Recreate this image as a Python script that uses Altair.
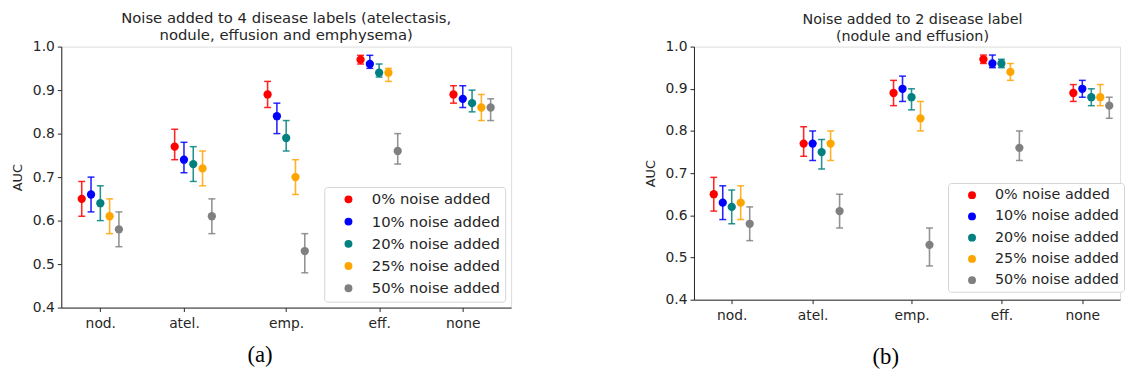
import altair as alt
import pandas as pd

categories = ["nod.", "atel.", "emp.", "eff.", "none"]
series = ["0% noise added", "10% noise added", "20% noise added",
          "25% noise added", "50% noise added"]
colors = ["#ff0000", "#0000ff", "#008080", "#ffa500", "#808080"]
tick_values = [2, 11, 22, 32, 41]

# panel (a): rows = series, columns = categories
auc_a = [[0.65, 0.77, 0.89, 0.97, 0.89],
         [0.66, 0.74, 0.84, 0.96, 0.88],
         [0.64, 0.73, 0.79, 0.94, 0.87],
         [0.61, 0.72, 0.70, 0.94, 0.86],
         [0.58, 0.61, 0.53, 0.76, 0.86]]
lo_a = [[0.61, 0.74, 0.86, 0.96, 0.87],
        [0.62, 0.71, 0.80, 0.95, 0.86],
        [0.60, 0.69, 0.76, 0.93, 0.85],
        [0.57, 0.68, 0.66, 0.92, 0.83],
        [0.54, 0.57, 0.48, 0.73, 0.83]]
hi_a = [[0.69, 0.81, 0.92, 0.98, 0.91],
        [0.70, 0.78, 0.87, 0.98, 0.91],
        [0.68, 0.77, 0.83, 0.96, 0.90],
        [0.65, 0.76, 0.74, 0.95, 0.89],
        [0.62, 0.65, 0.57, 0.80, 0.88]]

# panel (b)
auc_b = [[0.65, 0.77, 0.89, 0.97, 0.89],
         [0.63, 0.77, 0.90, 0.96, 0.90],
         [0.62, 0.75, 0.88, 0.96, 0.88],
         [0.63, 0.77, 0.83, 0.94, 0.88],
         [0.58, 0.61, 0.53, 0.76, 0.86]]
lo_b = [[0.61, 0.74, 0.86, 0.96, 0.87],
        [0.59, 0.73, 0.87, 0.95, 0.88],
        [0.58, 0.71, 0.85, 0.95, 0.86],
        [0.59, 0.73, 0.80, 0.92, 0.86],
        [0.54, 0.57, 0.48, 0.73, 0.83]]
hi_b = [[0.69, 0.81, 0.92, 0.98, 0.91],
        [0.67, 0.80, 0.93, 0.98, 0.92],
        [0.66, 0.78, 0.90, 0.97, 0.90],
        [0.67, 0.80, 0.87, 0.96, 0.91],
        [0.62, 0.65, 0.57, 0.80, 0.88]]

title_a = ["Noise added to 4 disease labels (atelectasis,",
           "nodule, effusion and emphysema)"]
title_b = ["Noise added to 2 disease label", "(nodule and effusion)"]

FONT = "DejaVu Sans"
INK = "#262626"


def build_df(auc, lo, hi):
    rows = []
    for si, s in enumerate(series):
        for ci, c in enumerate(categories):
            rows.append({"series": s, "cat": c, "x": ci * 10 + si,
                         "auc": auc[si][ci], "lo": lo[si][ci], "hi": hi[si][ci]})
    return pd.DataFrame(rows)


label_expr = ("datum.value == 2 ? 'nod.' : datum.value == 11 ? 'atel.' : "
              "datum.value == 22 ? 'emp.' : datum.value == 32 ? 'eff.' : 'none'")


def panel(df, title, width, height, xdomain, lx, ly, caption, cx, cy, title_dx,
          title_offset, title_font, leg_font):
    xs = alt.Scale(domain=xdomain, nice=False, zero=False)
    ys = alt.Scale(domain=[0.4, 1.0], nice=False, zero=False)
    xaxis = alt.Axis(values=tick_values, labelExpr=label_expr, title=None, grid=False,
                     labelFontSize=14, labelFont=FONT, labelColor=INK, tickColor=INK,
                     domainColor=INK, tickSize=4, labelPadding=5, labelFlush=False)
    yaxis = alt.Axis(values=[0.4, 0.5, 0.6, 0.7, 0.8, 0.9, 1.0], format=".1f", title="AUC",
                     grid=False, labelFontSize=14, labelFont=FONT, labelColor=INK,
                     tickColor=INK, domainColor=INK, tickSize=4, labelPadding=3,
                     titleFont=FONT, titleFontSize=13, titleFontWeight="normal",
                     titleColor=INK, titlePadding=8, labelFlush=False)
    color = alt.Color("series:N", scale=alt.Scale(domain=series, range=colors),
                      legend=alt.Legend(orient="none", legendX=lx, legendY=ly, title=None,
                                        fillColor="white", strokeColor="#d5d5d5",
                                        cornerRadius=3, padding=5, symbolType="circle",
                                        symbolSize=64, symbolOffset=12, labelOffset=16,
                                        labelFont=FONT, labelFontSize=leg_font,
                                        labelColor=INK, rowPadding=6.5, symbolStrokeWidth=0))
    base = alt.Chart(df)
    pts = base.mark_circle(size=70, opacity=1).encode(
        x=alt.X("x:Q", scale=xs, axis=xaxis),
        y=alt.Y("auc:Q", scale=ys, axis=yaxis),
        color=color)
    bars = base.mark_rule(strokeWidth=1.6, opacity=0.85).encode(
        x=alt.X("x:Q", scale=xs, axis=xaxis),
        y=alt.Y("lo:Q", scale=ys, axis=yaxis), y2="hi:Q",
        color=color)
    cap_lo = base.mark_tick(orient="horizontal", size=7, thickness=1.5, opacity=0.85).encode(
        x=alt.X("x:Q", scale=xs, axis=xaxis),
        y=alt.Y("lo:Q", scale=ys, axis=yaxis), color=color)
    cap_hi = base.mark_tick(orient="horizontal", size=7, thickness=1.5, opacity=0.85).encode(
        x=alt.X("x:Q", scale=xs, axis=xaxis),
        y=alt.Y("hi:Q", scale=ys, axis=yaxis), color=color)
    cap = alt.Chart(pd.DataFrame({"t": [caption]})).mark_text(
        font="Liberation Serif", fontSize=23, color="black", baseline="middle",
        align="center").encode(text="t:N", x=alt.value(cx), y=alt.value(cy))
    return alt.layer(pts, bars, cap_lo, cap_hi, cap).properties(
        width=width, height=height,
        title=alt.TitleParams(text=title, font=FONT, fontSize=title_font, fontWeight="normal",
                              color=INK, anchor="middle", offset=title_offset,
                              lineHeight=17, dx=title_dx))


left = panel(build_df(auc_a, lo_a, hi_a), title_a, 455, 264, [-2.2, 46.2],
             266, 142, "(a)", 201, 312, 0, -3, 15, 15)
right = panel(build_df(auc_b, lo_b, hi_b), title_b, 431, 256, [-2.2, 45.2],
              257, 138, "(b)", 194, 314, 5.5, -5, 14.5, 14.5)

chart = alt.hconcat(left, right, spacing=133).resolve_scale(
    x="independent", y="independent", color="independent").resolve_legend(
    color="independent").properties(
    padding={"left": 11, "top": 8, "right": 0, "bottom": 0}
).configure_view(stroke="#eeeeee").configure(background="white")

chart.save("out.html", embed_options={"renderer": "svg", "actions": False})
